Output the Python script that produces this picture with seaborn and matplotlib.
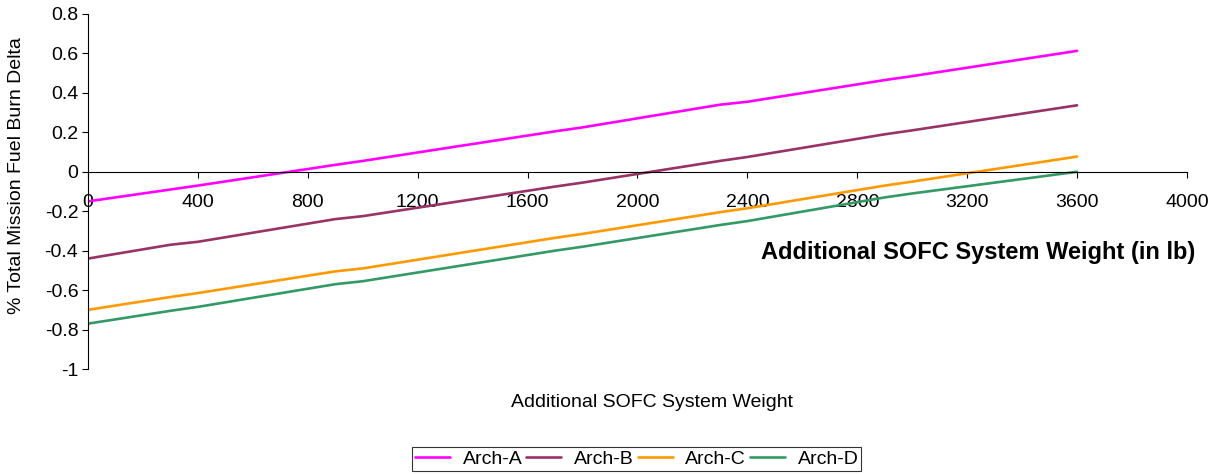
import pandas as pd
import seaborn as sns
import matplotlib.pyplot as plt

# data
weight = [0, 300, 400, 900, 1000, 1700, 1800, 2300, 2400, 2900, 3000, 3600]
arch_a = [-0.15, -0.09, -0.07, 0.035, 0.055, 0.205, 0.225, 0.34, 0.355, 0.465, 0.485, 0.613]
arch_b = [-0.44, -0.37, -0.355, -0.24, -0.225, -0.075, -0.055, 0.055, 0.075, 0.19, 0.21, 0.337]
arch_c = [-0.70, -0.635, -0.615, -0.505, -0.49, -0.335, -0.315, -0.205, -0.185, -0.07, -0.05, 0.077]
arch_d = [-0.77, -0.705, -0.685, -0.57, -0.555, -0.40, -0.38, -0.27, -0.25, -0.13, -0.11, 0.0]
names = ['Arch-A', 'Arch-B', 'Arch-C', 'Arch-D']
colors = ['#FF00FF', '#993366', '#FF9900', '#339966']

frames = []
for name, vals in zip(names, [arch_a, arch_b, arch_c, arch_d]):
    frames.append(pd.DataFrame({'weight': weight, 'delta': vals, 'arch': name}))
df = pd.concat(frames)

sns.set_style('white')
plt.rcParams['font.family'] = ['Liberation Sans', 'DejaVu Sans']
plt.rcParams['text.color'] = 'black'
plt.rcParams['axes.labelcolor'] = 'black'
plt.rcParams['xtick.color'] = 'black'
plt.rcParams['ytick.color'] = 'black'

fig = plt.figure(figsize=(12.27, 4.74), dpi=100)
ax = fig.add_axes([0.0717, 0.2215, 0.8957, 0.749])

sns.lineplot(data=df, x='weight', y='delta', hue='arch', palette=colors,
             linewidth=1.9, ax=ax)

ax.set_xlim(0, 4000)
ax.set_ylim(-1, 0.8)
ax.set_xticks(range(0, 4001, 400))
ax.set_yticks([-1, -0.8, -0.6, -0.4, -0.2, 0, 0.2, 0.4, 0.6, 0.8])
ax.set_yticklabels(['-1', '-0.8', '-0.6', '-0.4', '-0.2', '0', '0.2', '0.4', '0.6', '0.8'])

ax.spines['bottom'].set_position(('data', 0))
ax.spines['top'].set_visible(False)
ax.spines['right'].set_visible(False)
for s in ['bottom', 'left']:
    ax.spines[s].set_color('black')
    ax.spines[s].set_linewidth(0.8)
ax.tick_params(axis='x', direction='out', length=4, width=0.8, color='black',
               pad=12, labelsize=14)
ax.tick_params(axis='y', direction='out', length=4, width=0.8, color='black',
               pad=3, labelsize=14)
ax.tick_params(left=True, bottom=True)

ax.set_xlabel('')
ax.set_ylabel('% Total Mission Fuel Burn Delta', fontsize=14)
ax.yaxis.set_label_coords(-0.057, 0.546)
fig.text(0.531, 0.15, 'Additional SOFC System Weight', ha='center', va='center', fontsize=14)
ax.text(4030, -0.41, 'Additional SOFC System Weight (in lb)', ha='right', va='center',
        fontsize=17, fontweight='bold')

ax.legend_.remove()
handles, labels = ax.get_legend_handles_labels()
leg = fig.legend(handles, labels, loc='center', bbox_to_anchor=(0.519, 0.0316),
                 ncol=4, fontsize=14, frameon=True, fancybox=False,
                 handlelength=1.8, columnspacing=0.2, handletextpad=0.65,
                 borderpad=0.15, borderaxespad=0)
leg.get_frame().set_edgecolor('black')
leg.get_frame().set_linewidth(0.8)

fig.savefig('out.png', dpi=100)
